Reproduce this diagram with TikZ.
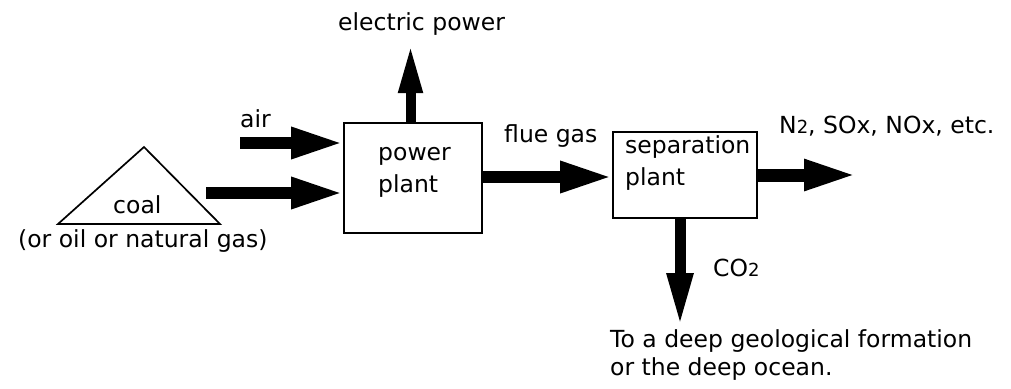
\documentclass[tikz,border=0pt]{standalone}
\usepackage{fontspec}
\setmainfont{DejaVu Sans}
\usetikzlibrary{arrows.meta}
\newcommand\smalltwo{{\fontsize{18}{18}\selectfont 2}}
\begin{document}
\begin{tikzpicture}[x=1pt,y=-1pt,
  lbl/.style={anchor=base west,inner sep=0pt,font=\fontsize{23.5}{28}\selectfont},
  boxnode/.style={draw,line width=1.7pt,rectangle,inner sep=0pt},
  fatA/.style={line width=11.5pt,-{Triangle[length=52pt,width=29pt]}},
  fatE/.style={line width=10pt,-{Triangle[length=49pt,width=22pt]}},
  fatN/.style={line width=13pt,-{Triangle[length=54pt,width=28pt]}},
  fatC/.style={line width=11pt,-{Triangle[length=54pt,width=24pt]}}]
\useasboundingbox (0,0) rectangle (1011,388);
% boxes
\node[boxnode,minimum width=138pt,minimum height=110pt] (pp) at (413,178) {};
\node[boxnode,minimum width=144pt,minimum height=86pt] (sp) at (685,175) {};
% texts in boxes
\node[lbl] (pptxt1) at (378,160) {power};
\node[lbl] (pptxt2) at (378,192) {plant};
\node[lbl] (sptxt1) at (625,153) {separation};
\node[lbl] (sptxt2) at (625,185) {plant};
% coal pile
\draw[line width=1.7pt,line join=miter] (144,147) -- (220,224) -- (58,224) -- cycle;
\node[lbl] (coal) at (113,213) {coal};
\node[lbl] (coalsub) at (18,247) {(or oil or natural gas)};
% labels
\node[lbl] (air) at (240,127) {air};
\node[lbl] (ep) at (338,30) {electric power};
\node[lbl] (flue) at (504,142) {flue gas};
\node[lbl] (n2) at (779,133) {N\smalltwo, SOx, NOx, etc.};
\node[lbl] (co2) at (713,276) {CO\smalltwo};
\node[lbl] (dest1) at (610,347) {To a deep geological formation};
\node[lbl] (dest2) at (610,375) {or the deep ocean.};
% connector ends
\coordinate (airstart) at (240,143);
\coordinate (coalstart) at (206,193);
\coordinate (eptip) at (410.5,44);
\coordinate (n2tip) at (858,175);
\coordinate (co2tip) at (680,327);
% connectors
\draw[fatA] (airstart) -- (airstart -| pp.west);
\draw[fatA] (coalstart) -- (coalstart -| pp.west);
\draw[fatE] (eptip |- pp.north) -- (eptip);
\draw[fatA] (pp.east |- 0,177) -- (sp.west |- 0,177);
\draw[fatN] (sp.east |- n2tip) -- (n2tip);
\draw[fatC] (co2tip |- sp.south) -- (co2tip);
\end{tikzpicture}
\end{document}
